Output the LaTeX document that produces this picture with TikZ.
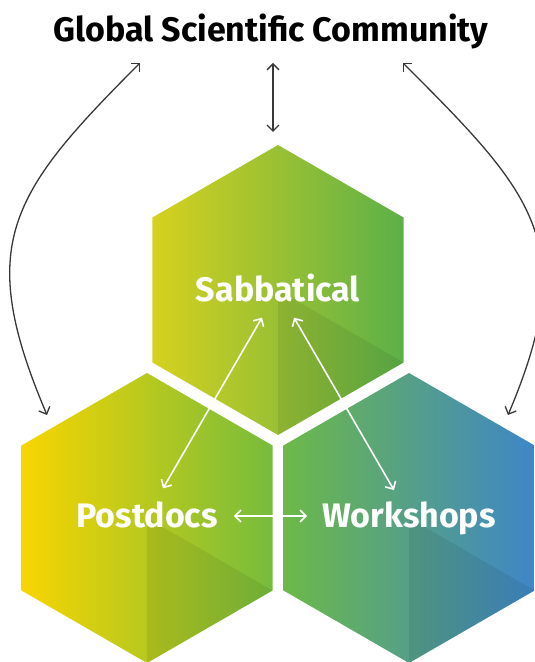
\documentclass[tikz,border=0pt]{standalone}
\usepackage{fontspec}
\setmainfont{Fira Sans}
\usetikzlibrary{shapes.geometric,arrows.meta}

\definecolor{sabl}{HTML}{D6D11E}
\definecolor{sabr}{HTML}{5CB049}
\definecolor{postl}{HTML}{F8D500}
\definecolor{postr}{HTML}{76BC3D}
\definecolor{workl}{HTML}{6CB948}
\definecolor{workr}{HTML}{3E86C8}

\begin{document}
\begin{tikzpicture}[x=1pt,y=1pt,
  hexa/.style={regular polygon,regular polygon sides=6,shape border rotate=30,minimum size=290pt,inner sep=0pt,outer sep=0pt},
  facet/.style={fill=black,fill opacity=0.07},
  hexlabel/.style={text=white,font=\fontsize{34}{40}\selectfont\bfseries,inner sep=0pt,text height=23.5pt,text depth=0pt},
  darkarrow/.style={{Straight Barb[length=6pt,width=12pt]}-{Straight Barb[length=6pt,width=12pt]},draw=black!78,line width=1.3pt},
  whitearrow/.style={{Straight Barb[length=6pt,width=12pt]}-{Straight Barb[length=6pt,width=12pt]},draw=white,line width=1.6pt}]

\useasboundingbox (0,0) rectangle (535,662);

\node[hexa,left color=sabl,right color=sabr] (sabhex) at (278,372) {};
\node[hexa,left color=postl,right color=postr] (posthex) at (147,144) {};
\node[hexa,left color=workl,right color=workr] (workhex) at (409,144) {};

\fill[facet] (sabhex.center) -- ++(-30:145) -- ++(210:145) -- cycle;
\fill[facet] (posthex.center) -- ++(-30:145) -- ++(210:145) -- cycle;
\fill[facet] (workhex.center) -- ++(-30:145) -- ++(210:145) -- cycle;

\node[hexlabel] (sab) at (278,372) {Sabbatical};
\node[hexlabel] (post) at (147,146) {Postdocs};
\node[hexlabel] (work) at (409,146) {Workshops};

\node[font=\fontsize{34}{40}\selectfont\bfseries,inner sep=0pt,anchor=base] (title) at (271,620) {Global Scientific Community};

\coordinate (gl) at (140,599);
\coordinate (pl) at (47,247);
\coordinate (gr) at (403,599);
\coordinate (wr) at (508,247);

\draw[darkarrow] ([xshift=2pt,yshift=-21pt]title.base) -- ([xshift=-5pt,yshift=13pt]sabhex.north);
\draw[darkarrow] (gl) to[out=225,in=113,looseness=1.3] (pl);
\draw[darkarrow] (gr) to[out=-45,in=67,looseness=1.3] (wr);

\draw[whitearrow,shorten <=32pt,shorten >=32pt] (sab.center) -- (post.center);
\draw[whitearrow,shorten <=32pt,shorten >=30pt] (sab.center) -- (work.center);
\draw[whitearrow,shorten <=16pt,shorten >=15pt] (post.east) -- (work.west);
\end{tikzpicture}
\end{document}
